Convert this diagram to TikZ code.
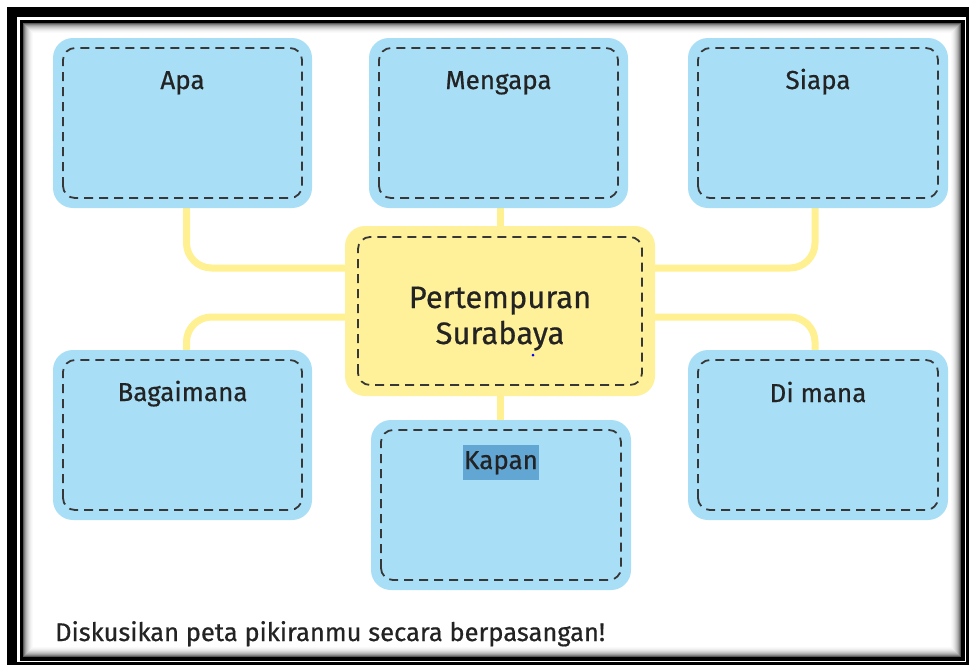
\documentclass[tikz,border=0pt]{standalone}
\usepackage{fontspec}
\setmainfont{Fira Sans}[FakeBold=0.6]
\definecolor{boxblue}{RGB}{168,223,247}
\definecolor{boxyel}{RGB}{255,241,153}
\definecolor{connyel}{RGB}{255,240,145}
\definecolor{txtc}{RGB}{35,35,35}
\definecolor{dashc}{RGB}{55,55,55}
\definecolor{hilite}{RGB}{98,166,212}
\pgfdeclarelayer{back}
\pgfdeclarelayer{bg}
\pgfsetlayers{back,bg,main}
\begin{document}
\begin{tikzpicture}[x=1pt,y=-1pt,
  bluebox/.style={fill=boxblue, rounded corners=20pt, minimum width=259pt, minimum height=170pt, inner sep=0pt, outer sep=0pt},
  yelbox/.style={fill=boxyel, rounded corners=20pt, minimum width=310pt, minimum height=170pt, inner sep=0pt, outer sep=0pt},
  dashbox/.style={draw=dashc, line width=1.8pt, dash pattern=on 9pt off 6pt, rounded corners=12pt},
  lbl/.style={text=txtc, font=\fontsize{26}{30}\selectfont, anchor=base, inner sep=0pt},
  ctr/.style={text=txtc, font=\fontsize{31}{36}\selectfont, anchor=base, inner sep=0pt},
  conn/.style={draw=connyel, line width=7pt, rounded corners=25pt}
]
\useasboundingbox (0,0) rectangle (972,670);
% frame
\begin{pgfonlayer}{back}
\fill[black] (7,7) rectangle (969,665);
\fill[white] (17,17) rectangle (966,662);
\fill[black] (20,20) rectangle (965,661);
\fill[white] (23,23) rectangle (961,657);
\foreach \i/\c in {0/65,1/50,2/38,3/29,4/22,5/16,6/11,7/7,8/4,9/2}
  \draw[black!\c, line width=1pt] (23.5+\i,23.5+\i) rectangle (960.5-\i,656.5-\i);
\end{pgfonlayer}
% boxes
\node[bluebox] (apa) at (182.5,123) {};
\node[bluebox] (mengapa) at (498.5,123) {};
\node[bluebox, minimum width=260pt] (siapa) at (818,123) {};
\node[bluebox] (bagaimana) at (182.5,435) {};
\node[bluebox, minimum width=260pt] (dimana) at (818,435) {};
\node[bluebox, minimum width=260pt] (kapan) at (501,505) {};
\node[yelbox] (center) at (500,311) {};
\foreach \n in {apa,mengapa,siapa,bagaimana,dimana,kapan}
  \draw[dashbox] ([xshift=10pt,yshift=10pt]\n.south west) rectangle ([xshift=-10pt,yshift=-10pt]\n.north east);
\draw[dashbox] ([xshift=13pt,yshift=11pt]center.south west) rectangle ([xshift=-13pt,yshift=-11pt]center.north east);
% labels
\node[lbl] (apaL) at ([yshift=-51pt]apa.north) {Apa};
\node[lbl] (mengapaL) at ([yshift=-51pt]mengapa.north) {Mengapa};
\node[lbl] (siapaL) at ([yshift=-51pt]siapa.north) {Siapa};
\node[lbl] (bagaimanaL) at ([yshift=-51pt]bagaimana.north) {Bagaimana};
\node[lbl] (dimanaL) at ([yshift=-52pt]dimana.north) {Di mana};
\node[lbl, fill=hilite, inner xsep=1pt, text height=24pt, text depth=11pt] (kapanL) at ([yshift=-49pt]kapan.north) {Kapan};
\node[ctr] (centerL1) at (500,308) {Pertempuran};
\node[ctr] (centerL2) at (500,344) {Surabaya};
\fill[blue] (533,355) circle (1.5pt);
% connectors
\begin{pgfonlayer}{bg}
\draw[conn] ([xshift=4pt]apa.south) |- ([yshift=43pt]center.west);
\draw[conn] ([xshift=4pt]bagaimana.north) |- ([yshift=-6pt]center.west);
\draw[conn] ([xshift=-3pt]siapa.south) |- ([yshift=43pt]center.east);
\draw[conn] ([xshift=-3pt]dimana.north) |- ([yshift=-6pt]center.east);
\draw[conn] (center.north) -- (center.north |- mengapa.south);
\draw[conn] (center.south) -- (center.south |- kapan.north);
\end{pgfonlayer}
% note
\node[text=txtc, font=\fontsize{25.5}{30}\selectfont, anchor=base west, inner sep=0pt] (note) at (55,641) {Diskusikan peta pikiranmu secara berpasangan!};
\end{tikzpicture}
\end{document}
